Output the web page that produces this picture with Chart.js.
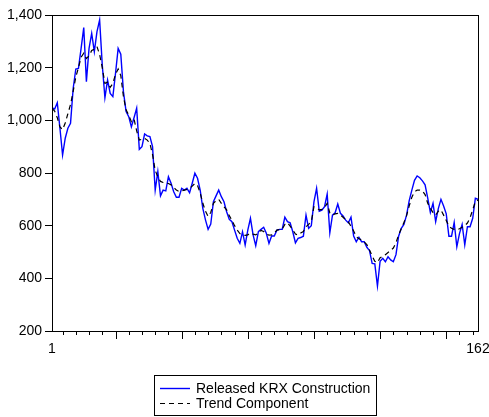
<!DOCTYPE html>
<html>
<head>
<meta charset="utf-8">
<script src="https://cdn.jsdelivr.net/npm/chart.js@4.4.1/dist/chart.umd.min.js"></script>
<style>
  html, body { margin: 0; padding: 0; background: #fff; }
  canvas { display: block; }
</style>
</head>
<body>
<canvas id="chart" width="489" height="417"></canvas>
<script>
// monthly index level, observations 1..162
const released = [
  1048, 1043, 1067, 970, 868, 932, 970, 989, 1121, 1195,
  1197, 1273, 1352, 1147, 1273, 1330, 1261, 1337, 1381, 1210,
  1086, 1153, 1102, 1090, 1178, 1273, 1251, 1109, 1033, 1014,
  975, 1010, 1046, 890, 900, 948, 941, 938, 900, 735,
  805, 713, 735, 732, 786, 761, 729, 708, 708, 742,
  735, 742, 725, 761, 799, 780, 735, 666, 622, 586,
  606, 691, 713, 735, 710, 691, 653, 624, 615, 583,
  552, 533, 577, 527, 583, 628, 565, 524, 577, 586,
  594, 571, 533, 561, 561, 583, 586, 586, 632, 615,
  611, 577, 535, 552, 555, 560, 640, 590, 600, 690,
  742, 655, 659, 672, 720, 573, 640, 649, 682, 647,
  637, 621, 611, 632, 561, 539, 556, 539, 539, 518,
  505, 457, 455, 371, 465, 476, 463, 482, 470, 463,
  490, 560, 590, 605, 640, 695, 735, 772, 789, 782,
  770, 755, 705, 650, 685, 615, 665, 700, 675, 645,
  560, 560, 612, 520, 570, 605, 527, 596, 596, 628,
  704, 700
];

const trend = [
  1045, 1035, 1010, 975, 965, 990, 1025, 1060, 1110, 1165,
  1200, 1240, 1255, 1235, 1245, 1265, 1270, 1280, 1250, 1200,
  1140, 1145, 1125, 1140, 1175, 1195, 1170, 1090, 1040, 1020,
  995, 1005, 960, 925, 928, 932, 925, 912, 870, 810,
  785, 768, 764, 762, 760, 755, 745, 735, 730, 732,
  735, 738, 742, 750, 760, 752, 725, 685, 655, 635,
  650, 685, 695, 700, 685, 672, 660, 638, 620, 600,
  583, 570, 565, 563, 565, 572, 568, 565, 572, 582,
  578, 568, 564, 565, 572, 583, 585, 587, 605, 611,
  598, 584, 568, 565, 572, 578, 596, 605, 615, 672,
  668, 660, 662, 668, 685, 648, 640, 645, 647, 640,
  632, 622, 614, 598, 580, 558, 550, 546, 538, 528,
  508, 485, 465, 460, 478, 484, 490, 498, 506, 515,
  535, 565, 588, 612, 638, 675, 708, 728, 735, 735,
  732, 718, 685, 666, 650, 640, 655, 660, 640, 620,
  598, 590, 586, 584, 588, 594, 600, 610, 630, 660,
  692, 697
];

const yTicks = [200, 400, 600, 800, 1000, 1200, 1400];
const xTickLabels = [1, 162];
const xMinorStep = 5;
const xMajorStep = 25;

const FONT = { family: '"Liberation Sans", Arial, sans-serif', size: 14 };

const toPoints = vals => vals.map((v, i) => ({ x: i + 1, y: v }));

// box around the plot plus the small ticks under the x axis
const frameAndTicks = {
  id: 'frameAndTicks',
  afterDraw(chart) {
    const { ctx, chartArea: a, scales: { x } } = chart;
    ctx.save();
    ctx.strokeStyle = '#000';
    ctx.lineWidth = 1;
    ctx.strokeRect(Math.round(a.left) + 0.5, Math.round(a.top) + 0.5,
      Math.round(a.right - a.left), Math.round(a.bottom - a.top));
    ctx.beginPath();
    for (let v = xMinorStep; v <= x.max; v += xMinorStep) {
      const px = Math.round(x.getPixelForValue(v)) + 0.5;
      const len = v % xMajorStep === 0 ? 8 : 4;
      ctx.moveTo(px, a.bottom);
      ctx.lineTo(px, a.bottom + len);
    }
    ctx.stroke();
    ctx.restore();
  }
};

// boxed legend centred under the plot
const boxLegend = {
  id: 'boxLegend',
  afterDraw(chart) {
    const { ctx, chartArea: a } = chart;
    const sets = chart.data.datasets;
    ctx.save();
    ctx.font = FONT.size + 'px ' + FONT.family;
    const textW = Math.max(...sets.map(d => ctx.measureText(d.label).width));
    const sampleW = 30, gap = 6, pad = 6, rowH = 15;
    const w = pad + sampleW + gap + textW + pad;
    const h = 40;
    const left = Math.round((a.left + a.right) / 2 - w / 2);
    const top = Math.round(a.bottom + 44);
    ctx.strokeStyle = '#000';
    ctx.lineWidth = 1;
    ctx.strokeRect(left + 0.5, top + 0.5, Math.round(w), h);
    sets.forEach((d, i) => {
      const y = top + 13 + i * rowH;
      ctx.beginPath();
      ctx.strokeStyle = d.borderColor;
      ctx.lineWidth = d.borderWidth;
      ctx.setLineDash(d.borderDash || []);
      ctx.moveTo(left + pad, y + 0.5);
      ctx.lineTo(left + pad + sampleW, y + 0.5);
      ctx.stroke();
      ctx.setLineDash([]);
      ctx.fillStyle = '#000';
      ctx.textBaseline = 'middle';
      ctx.textAlign = 'left';
      ctx.fillText(d.label, left + pad + sampleW + gap, y + 1);
    });
    ctx.restore();
  }
};

new Chart(document.getElementById('chart').getContext('2d'), {
  type: 'line',
  data: {
    datasets: [{
      label: 'Released KRX Construction',
      data: toPoints(released),
      borderColor: '#0000ff',
      borderWidth: 1.4,
      pointRadius: 0,
      tension: 0,
      order: 1
    }, {
      label: 'Trend Component',
      data: toPoints(trend),
      borderColor: '#000000',
      borderWidth: 1.2,
      borderDash: [5, 4],
      pointRadius: 0,
      tension: 0,
      order: 0
    }]
  },
  options: {
    responsive: false,
    animation: false,
    layout: { padding: { top: 15, right: 11, bottom: 56, left: 0 } },
    plugins: {
      legend: { display: false },
      tooltip: { enabled: false }
    },
    scales: {
      x: {
        type: 'linear',
        min: 1,
        max: 162,
        grid: { display: false, drawTicks: true, tickLength: 8 },
        border: { display: false },
        afterBuildTicks: s => { s.ticks = xTickLabels.map(v => ({ value: v })); },
        afterFit: s => { s.height = 30; s.paddingLeft = 0; s.paddingRight = 0; },
        ticks: {
          autoSkip: false,
          maxRotation: 0,
          padding: 2,
          color: '#000',
          font: FONT,
          callback: v => String(v)
        }
      },
      y: {
        min: 200,
        max: 1400,
        grid: { drawOnChartArea: false, tickLength: 7, color: '#000' },
        border: { display: false },
        afterBuildTicks: s => { s.ticks = yTicks.map(v => ({ value: v })); },
        afterFit: s => { s.width = 52; },
        ticks: {
          padding: 3,
          color: '#000',
          font: FONT,
          callback: v => v.toLocaleString('en-US')
        }
      }
    }
  },
  plugins: [frameAndTicks, boxLegend]
});
</script>
</body>
</html>
